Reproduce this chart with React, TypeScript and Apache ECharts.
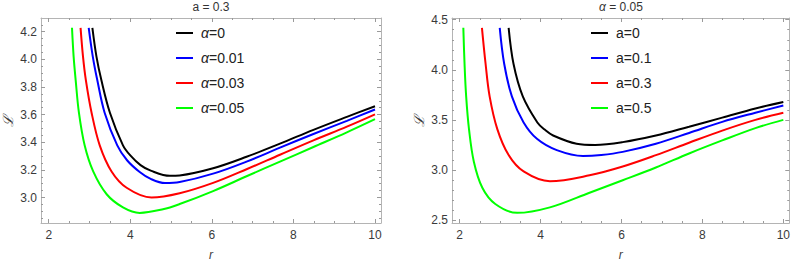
import React, { useEffect, useRef } from "react";
import * as echarts from "echarts";

// ---------- data (r, L) ----------
// Left panel: a = 0.3
const leftAlpha0 = [[3.07,4.228],[3.17,4.02],[3.29,3.85],[3.5,3.614],[3.82,3.378],[4.0,3.305],[4.25,3.235],[4.5,3.195],[4.97,3.157],[5.21,3.16],[6.03,3.212],[6.85,3.295],[7.67,3.39],[8.49,3.49],[9.31,3.584],[10,3.661]];
const leftAlpha001 = [[2.98,4.228],[3.08,4.02],[3.19,3.85],[3.37,3.614],[3.68,3.378],[3.92,3.27],[4.23,3.185],[4.5,3.135],[4.85,3.105],[5.21,3.112],[6.03,3.173],[6.85,3.26],[7.67,3.361],[8.49,3.46],[9.31,3.555],[10,3.637]];
const leftAlpha003 = [[2.78,4.228],[2.84,4.02],[2.91,3.85],[3.05,3.614],[3.25,3.378],[3.54,3.189],[3.91,3.071],[4.52,3.0],[5.21,3.031],[6.03,3.106],[6.85,3.205],[7.67,3.31],[8.49,3.414],[9.31,3.513],[10,3.602]];
const leftAlpha005 = [[2.57,4.228],[2.61,4.02],[2.66,3.85],[2.74,3.614],[2.88,3.378],[3.09,3.189],[3.42,3.024],[3.82,2.929],[4.23,2.889],[4.8,2.915],[5.21,2.953],[6.03,3.047],[6.85,3.154],[7.67,3.26],[8.49,3.366],[9.31,3.472],[10,3.567]];

// Right panel: alpha = 0.05
const rightA0 = [[3.21,4.419],[3.33,4.061],[3.56,3.736],[3.92,3.476],[4.1,3.405],[4.31,3.346],[4.89,3.264],[5.35,3.252],[6.03,3.28],[6.85,3.346],[7.67,3.434],[8.49,3.524],[9.31,3.615],[10,3.68]];
const rightA01 = [[2.99,4.419],[3.1,4.061],[3.29,3.736],[3.58,3.476],[3.91,3.313],[4.4,3.2],[5.05,3.142],[5.5,3.152],[6.03,3.183],[6.85,3.264],[7.67,3.371],[8.49,3.482],[9.31,3.573],[10,3.645]];
const rightA03 = [[2.55,4.419],[2.64,4.061],[2.74,3.736],[2.93,3.41],[3.21,3.151],[3.58,2.988],[4.23,2.89],[5.21,2.949],[6.03,3.037],[6.85,3.15],[7.67,3.274],[8.49,3.395],[9.31,3.502],[10,3.573]];
const rightA05 = [[2.09,4.419],[2.12,4.061],[2.16,3.736],[2.23,3.41],[2.35,3.085],[2.56,2.825],[2.88,2.663],[3.42,2.575],[4.23,2.63],[5.21,2.776],[6.03,2.9],[6.85,3.027],[7.67,3.167],[8.49,3.297],[9.31,3.42],[10,3.502]];

const leftNames = ["α=0", "α=0.01", "α=0.03", "α=0.05"];
const rightNames = ["a=0", "a=0.1", "a=0.3", "a=0.5"];
const colors = ["#000000", "#0000ff", "#ff0000", "#00ff00"];

const xTicks = [2, 4, 6, 8, 10];
const leftYTicks = [3.0, 3.2, 3.4, 3.6, 3.8, 4.0, 4.2];
const rightYTicks = [2.5, 3.0, 3.5, 4.0, 4.5];

const leftTitle = "a = 0.3";
const rightTitle = "{i|α} = 0.05";

function minorVals(lo: number, hi: number, step: number, majors: number[]) {
  const out: number[] = [];
  const start = Math.ceil(lo / step - 1e-9);
  for (let k = start; k * step <= hi + 1e-9; k++) {
    const v = Math.round(k * step * 1000) / 1000;
    if (!majors.some((m) => Math.abs(m - v) < 1e-6)) out.push(v);
  }
  return out;
}

const FRAME = "#b4b4b4";
const TICK = "#9a9a9a";
const LABEL = "#3a3a3a";
const FONT = "Liberation Sans, Arial, sans-serif";

export default function App() {
  const ref = useRef<HTMLDivElement>(null);
  useEffect(() => {
    if (!ref.current) return;
    const chart = echarts.init(ref.current, undefined, { renderer: "svg" });

    const panels = [
      { grid: { left: 41, top: 18, width: 340, height: 210 }, xMin: 1.81, xMax: 10.147, yMin: 2.816, yMax: 4.299, yTicks: leftYTicks, yMinorStep: 0.05, yFmt: 1 },
      { grid: { left: 452, top: 18, width: 339, height: 210 }, xMin: 1.81, xMax: 10.147, yMin: 2.474, yMax: 4.517, yTicks: rightYTicks, yMinorStep: 0.1, yFmt: 1 },
    ];

    const xAxis: any[] = [];
    const yAxis: any[] = [];
    panels.forEach((p, gi) => {
      const xMinor = minorVals(p.xMin, p.xMax, 0.5, xTicks);
      const yMinor = minorVals(p.yMin, p.yMax, p.yMinorStep, p.yTicks);
      const baseX = { gridIndex: gi, type: "value", min: p.xMin, max: p.xMax, splitLine: { show: false } };
      const baseY = { gridIndex: gi, type: "value", min: p.yMin, max: p.yMax, splitLine: { show: false } };
      xAxis.push({
        ...baseX, position: "bottom",
        axisLine: { show: true, lineStyle: { color: FRAME, width: 1 } },
        axisTick: { show: true, inside: true, length: 4, customValues: xTicks, lineStyle: { color: TICK } },
        axisLabel: { show: true, customValues: xTicks, margin: 6, fontSize: 12, color: LABEL, fontFamily: FONT },
        name: "r", nameLocation: "middle", nameGap: 26,
        nameTextStyle: { fontSize: 12, fontStyle: "italic", color: LABEL, fontFamily: FONT },
      });
      xAxis.push({
        ...baseX, position: "bottom", axisLine: { show: false },
        axisTick: { show: true, inside: true, length: 2, customValues: xMinor, lineStyle: { color: TICK } },
        axisLabel: { show: false },
      });
      xAxis.push({
        ...baseX, position: "top",
        axisLine: { show: true, lineStyle: { color: FRAME, width: 1 } },
        axisTick: { show: true, inside: true, length: 4, customValues: xTicks, lineStyle: { color: TICK } },
        axisLabel: { show: false },
      });
      xAxis.push({
        ...baseX, position: "top", axisLine: { show: false },
        axisTick: { show: true, inside: true, length: 2, customValues: xMinor, lineStyle: { color: TICK } },
        axisLabel: { show: false },
      });
      yAxis.push({
        ...baseY, position: "left",
        axisLine: { show: true, lineStyle: { color: FRAME, width: 1 } },
        axisTick: { show: true, inside: true, length: 4, customValues: p.yTicks, lineStyle: { color: TICK } },
        axisLabel: { show: true, customValues: p.yTicks, margin: 4, fontSize: 12, color: LABEL, fontFamily: FONT,
          formatter: (v: number) => v.toFixed(p.yFmt) },
        name: "ℒ", nameLocation: "middle", nameGap: 26, nameRotate: 90,
        nameTextStyle: { fontSize: 14, fontStyle: "italic", color: LABEL },
      });
      yAxis.push({
        ...baseY, position: "left", axisLine: { show: false },
        axisTick: { show: true, inside: true, length: 2, customValues: yMinor, lineStyle: { color: TICK } },
        axisLabel: { show: false },
      });
      yAxis.push({
        ...baseY, position: "right",
        axisLine: { show: true, lineStyle: { color: FRAME, width: 1 } },
        axisTick: { show: true, inside: true, length: 4, customValues: p.yTicks, lineStyle: { color: TICK } },
        axisLabel: { show: false },
      });
      yAxis.push({
        ...baseY, position: "right", axisLine: { show: false },
        axisTick: { show: true, inside: true, length: 2, customValues: yMinor, lineStyle: { color: TICK } },
        axisLabel: { show: false },
      });
    });

    const leftData = [leftAlpha0, leftAlpha001, leftAlpha003, leftAlpha005];
    const rightData = [rightA0, rightA01, rightA03, rightA05];
    const mkSeries = (name: string, data: number[][], color: string, gi: number) => ({
      type: "line", name, data, xAxisIndex: gi * 4, yAxisIndex: gi * 4,
      showSymbol: false, symbol: "none", smooth: 0.35,
      lineStyle: { color, width: 2 }, itemStyle: { color }, clip: true, silent: true,
    });
    const series = [
      ...leftData.map((d, i) => mkSeries(leftNames[i], d, colors[i], 0)),
      ...rightData.map((d, i) => mkSeries(rightNames[i], d, colors[i], 1)),
    ];

    const legendText = {
      fontSize: 14, color: "#222", fontFamily: FONT, lineHeight: 14, padding: [0, 0, 0, 3],
      rich: { i: { fontStyle: "italic", fontSize: 14, lineHeight: 14, color: "#222", fontFamily: FONT } },
    };
    const mkLegend = (names: string[], left: number) => ({
      data: names, orient: "vertical", left, top: 26, padding: 0,
      itemGap: 11, itemWidth: 17, itemHeight: 2, icon: "rect",
      selectedMode: false, textStyle: legendText,
      formatter: (n: string) => n.replace("α", "{i|α}"),
    });

    chart.setOption({
      animation: false,
      title: [
        { text: leftTitle, left: 211, top: 0, padding: 0, textAlign: "center",
          textStyle: { fontSize: 12, fontWeight: "normal", color: "#333", fontFamily: FONT, lineHeight: 13 } },
        { text: rightTitle, left: 621, top: 0, padding: 0, textAlign: "center",
          textStyle: { fontSize: 12, fontWeight: "normal", color: "#333", fontFamily: FONT, lineHeight: 13,
            rich: { i: { fontStyle: "italic", fontSize: 12, color: "#333", fontFamily: FONT, lineHeight: 13 } } } },
      ],
      grid: panels.map((p) => ({ ...p.grid, containLabel: false })),
      xAxis, yAxis,
      legend: [mkLegend(leftNames, 176), mkLegend(rightNames, 591)],
      series,
    });
    return () => chart.dispose();
  }, []);
  return <div ref={ref} style={{ position: "fixed", left: 0, top: 0, width: 793, height: 266, background: "#fff" }} />;
}
